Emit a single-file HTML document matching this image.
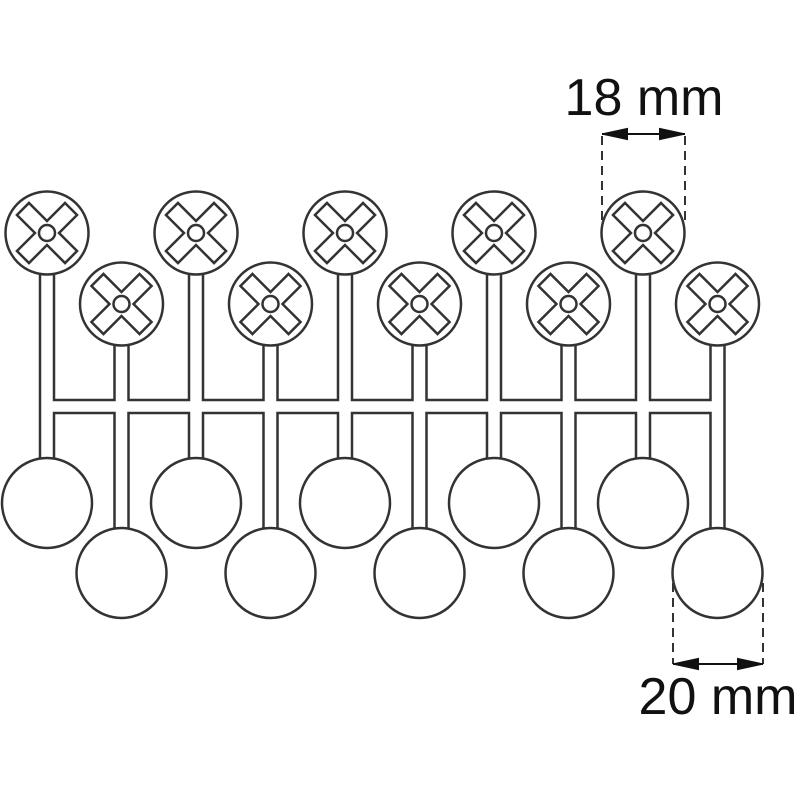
<!DOCTYPE html>
<html><head><style>html,body{margin:0;padding:0;background:#fff;}svg{display:block}</style></head>
<body>
<svg width="800" height="800" viewBox="0 0 800 800" xmlns="http://www.w3.org/2000/svg">
<defs>
<g id="cr">
<polygon points="-8.5,-34 8.5,-34 8.5,-8.5 34,-8.5 34,8.5 8.5,8.5 8.5,34 -8.5,34 -8.5,8.5 -34,8.5 -34,-8.5 -8.5,-8.5" transform="rotate(45)" fill="#fff" stroke="#333" stroke-width="2.5" stroke-linejoin="miter"/>
<circle r="8" fill="#fff" stroke="#333" stroke-width="2.5"/>
</g>
</defs>
<g id="s"></g>
<script>
var ns="http://www.w3.org/2000/svg",g=document.getElementById('s');
function el(t,a){var e=document.createElementNS(ns,t);for(var k in a)e.setAttribute(k,a[k]);g.appendChild(e);return e;}
var xs=[];for(var i=0;i<10;i++)xs.push(47+74.5*i);
for(var i=0;i<10;i++){var ty=i%2?304:233,by=i%2?573:503;el('rect',{x:xs[i]-8.25,y:ty,width:16.5,height:by-ty,fill:'#333'});}
el('rect',{x:xs[0],y:398.75,width:xs[9]-xs[0],height:15.5,fill:'#333'});
for(var i=0;i<10;i++){var ty=i%2?304:233,by=i%2?573:503;el('rect',{x:xs[i]-5.75,y:ty,width:11.5,height:by-ty,fill:'#fff'});}
el('rect',{x:xs[0],y:401.25,width:xs[9]-xs[0],height:10.5,fill:'#fff'});
for(var i=0;i<10;i++){var ty=i%2?304:233,by=i%2?573:503;
el('circle',{cx:xs[i],cy:ty,r:41.5,fill:'#fff',stroke:'#333','stroke-width':2.5});
el('use',{href:'#cr',x:xs[i],y:ty});
el('circle',{cx:xs[i],cy:by,r:45,fill:'#fff',stroke:'#333','stroke-width':2.5});}
</script>
<g stroke="#333" stroke-width="2" stroke-dasharray="9,6" fill="none">
<line x1="602" y1="136" x2="602" y2="222"/><line x1="685" y1="136" x2="685" y2="222"/>
<line x1="673" y1="583" x2="673" y2="664"/><line x1="763" y1="583" x2="763" y2="664"/>
</g>
<g stroke="#111" stroke-width="2" fill="#111">
<line x1="602" y1="134" x2="685" y2="134"/>
<polygon points="604,134 627,129 627,139"/><polygon points="683,134 660,129 660,139"/>
<line x1="673" y1="664" x2="763" y2="664"/>
<polygon points="675,664 698,659 698,669"/><polygon points="761,664 738,659 738,669"/>
</g>
<text x="644" y="115" text-anchor="middle" font-family="Liberation Sans, sans-serif" font-size="52" fill="#111">18 mm</text>
<text x="718" y="714" text-anchor="middle" font-family="Liberation Sans, sans-serif" font-size="52" fill="#111">20 mm</text>
</svg>
</body></html>
